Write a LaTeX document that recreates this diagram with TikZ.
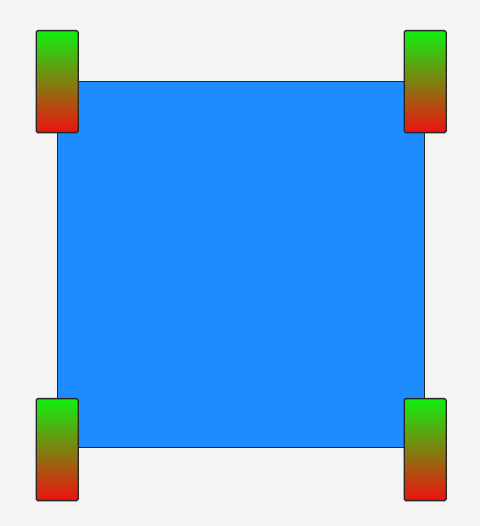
\documentclass[tikz,border=0pt]{standalone}
\definecolor{bgc}{HTML}{F4F4F4}
\definecolor{bodyc}{HTML}{1E8CFF}
\definecolor{wgreen}{HTML}{11EE11}
\definecolor{wred}{HTML}{EE1111}
\begin{document}
\begin{tikzpicture}[x=1pt,y=1pt,
  wheel/.style={draw=black!85,line width=1.3pt,rounded corners=1.5pt,top color=wgreen,bottom color=wred,minimum width=42pt,minimum height=102pt,inner sep=0pt,anchor=north west},
  chassis/.style={draw=black!85,line width=1.2pt,fill=bodyc,minimum width=367pt,minimum height=366pt,inner sep=0pt,anchor=north west}]
\fill[bgc] (0,0) rectangle (480,526);
\useasboundingbox (0,0) rectangle (480,526);
\node[chassis] (body) at (57,445) {};
\node[wheel] (wfl) at (35.5,496) {};
\node[wheel] (wfr) at (403.5,496) {};
\node[wheel] (wbl) at (35.5,128) {};
\node[wheel] (wbr) at (403.5,128) {};
\end{tikzpicture}
\end{document}
